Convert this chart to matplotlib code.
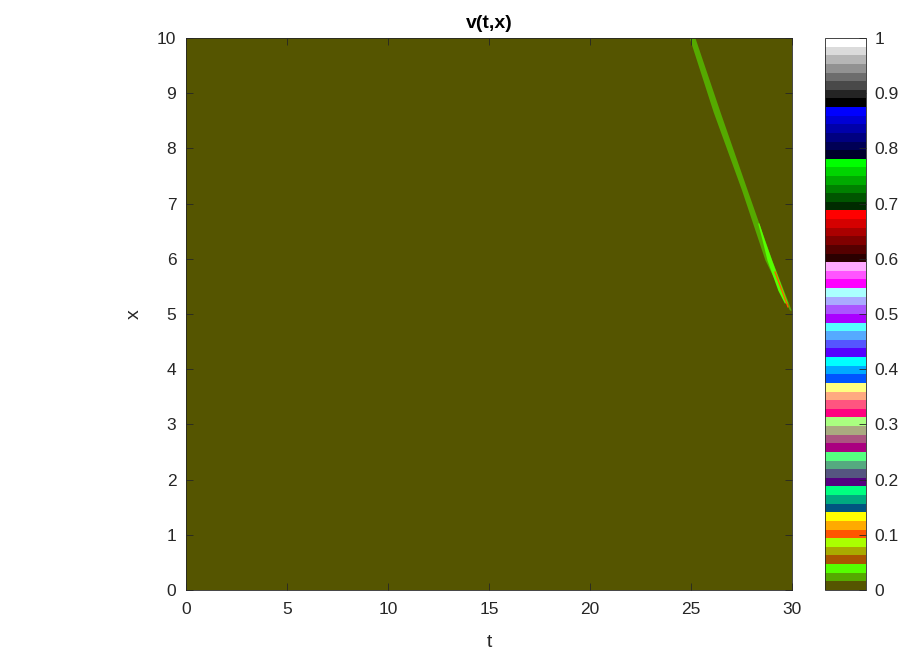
import numpy as np
import matplotlib
matplotlib.use("Agg")
import matplotlib.pyplot as plt
from matplotlib.colors import ListedColormap, Normalize
from matplotlib.cm import ScalarMappable

plt.rcParams['font.family'] = ['Liberation Sans', 'DejaVu Sans']

# domain of the solution v(t,x)
t_range = [0, 30]
x_range = [0, 10]
background_value = 0.0

# travelling front (x level, left / right edge in t)
streak_x = [10.0, 8.66, 7.25, 5.98, 5.07]
streak_left = [24.92, 26.10, 27.50, 28.66, 29.88]
streak_right = [25.20, 26.44, 27.78, 29.00, 29.96]
streak_value = 0.025

# brighter core near the end of the front
core_x = [6.65, 6.34, 5.98, 5.43, 5.20]
core_left = [28.30, 28.52, 28.76, 29.30, 29.62]
core_right = [28.36, 28.64, 28.99, 29.55, 29.78]
core_value = 0.04

# thin hot line close to t = 30
hot_t = [29.16, 29.80]
hot_x = [5.76, 5.13]
hot_value = 0.10

cbar_ticks = [0, 0.1, 0.2, 0.3, 0.4, 0.5, 0.6, 0.7, 0.8, 0.9, 1]
cbar_labels = ['0', '0.1', '0.2', '0.3', '0.4', '0.5', '0.6', '0.7', '0.8', '0.9', '1']


def colorcube64():
    """MATLAB-like colorcube map with 64 entries."""
    rg = np.linspace(0, 1, 4)
    bb = np.linspace(0, 1, 3)
    cols = []
    for b in bb:
        for r in rg:
            for g in rg:
                # skip pure red/green/blue and gray, added as ramps below
                if (g == 0 and b == 0) or (r == 0 and b == 0):
                    continue
                if r == 0 and g == 0:
                    continue
                if r == g == b:
                    continue
                cols.append((r, g, b))
    ramp = np.arange(1, 7) / 6.0
    for v in ramp:
        cols.append((v, 0, 0))
    for v in ramp:
        cols.append((0, v, 0))
    for v in ramp:
        cols.append((0, 0, v))
    for v in np.linspace(0, 1, 8):
        cols.append((v, v, v))
    return ListedColormap(cols[:64])


cmap = colorcube64()
norm = Normalize(0, 1)
tick_color = '#262626'

fig = plt.figure(figsize=(9.04, 6.53), dpi=100)
ax = fig.add_axes([0.2058, 0.0965, 0.6703, 0.8453])

field = np.full((2, 2), background_value)
ax.imshow(field, cmap=cmap, norm=norm, origin='lower', aspect='auto',
          extent=[t_range[0], t_range[1], x_range[0], x_range[1]],
          interpolation='nearest')

ax.fill_betweenx(streak_x, streak_left, streak_right,
                 color=cmap(norm(streak_value)), lw=0)
ax.fill_betweenx(core_x, core_left, core_right,
                 color=cmap(norm(core_value)), lw=0)
ax.plot(hot_t, hot_x, color=cmap(norm(hot_value)), lw=1.0)

ax.set_xlim(t_range)
ax.set_ylim(x_range)
ax.set_xticks(np.arange(0, 31, 5))
ax.set_yticks(np.arange(0, 11, 1))
ax.tick_params(direction='in', top=True, right=True, length=5, width=0.6,
               labelsize=12.5, colors=tick_color)
ax.tick_params(axis='x', pad=9)
ax.tick_params(axis='y', pad=7)
for s in ax.spines.values():
    s.set_color(tick_color)
    s.set_linewidth(0.6)

ax.set_title('v(t,x)', fontsize=14, fontweight='bold', color='black', pad=7)
ax.set_xlabel('t', fontsize=14, color=tick_color, labelpad=12)
ax.set_ylabel('x', fontsize=14, color=tick_color, labelpad=10)

cax = fig.add_axes([0.9126, 0.0965, 0.0454, 0.8453])
cb = fig.colorbar(ScalarMappable(norm=norm, cmap=cmap), cax=cax)
cb.set_ticks(cbar_ticks)
cb.set_ticklabels(cbar_labels)
cb.ax.tick_params(direction='in', length=5, width=0.6, labelsize=12.5,
                  colors=tick_color, pad=6)
cb.outline.set_edgecolor(tick_color)
cb.outline.set_linewidth(0.6)

fig.savefig('out.png', dpi=100)
